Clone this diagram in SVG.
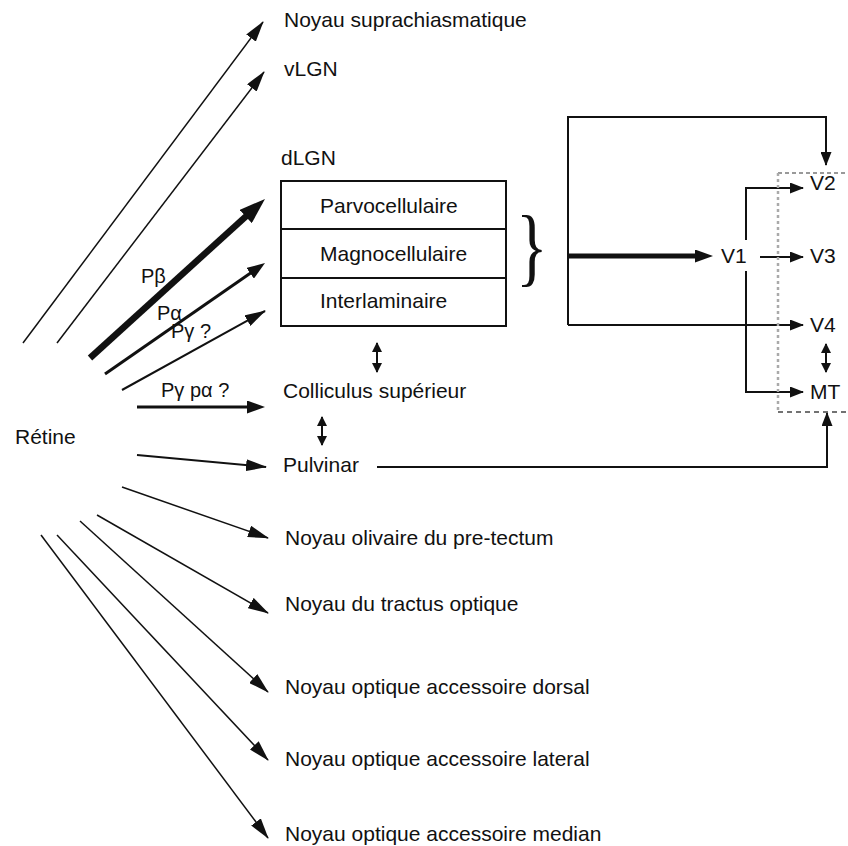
<svg xmlns="http://www.w3.org/2000/svg" width="848" height="846" viewBox="0 0 848 846">
<style>
  text { font-family: "Liberation Sans", Arial, sans-serif; font-size: 21px; fill: #111; }
  .lbl { font-size: 20px; }
  .ln { fill: none; stroke: #111; stroke-width: 1.5; }
  .ln2 { fill: none; stroke: #111; stroke-width: 2; }
  .box { fill: #fff; stroke: #111; stroke-width: 2; }
</style>
<defs>
  <marker id="aThin" markerUnits="userSpaceOnUse" markerWidth="21" markerHeight="12" refX="20" refY="6" orient="auto"><path d="M0,0 L21,6 L0,12 z" fill="#111"/></marker>
  <marker id="aSmall" markerUnits="userSpaceOnUse" markerWidth="14" markerHeight="11" refX="13" refY="5.5" orient="auto"><path d="M0,0 L14,5.5 L0,11 z" fill="#111"/></marker>
  <marker id="aMed" markerUnits="userSpaceOnUse" markerWidth="18" markerHeight="13" refX="4" refY="6.5" orient="auto"><path d="M0,0 L18,6.5 L0,13 z" fill="#111"/></marker>
  <marker id="aBig" markerUnits="userSpaceOnUse" markerWidth="26" markerHeight="18" refX="4" refY="9" orient="auto"><path d="M0,0 L26,9 L0,18 z" fill="#111"/></marker>
  <marker id="aDbl" markerUnits="userSpaceOnUse" markerWidth="10" markerHeight="10" refX="9" refY="5" orient="auto-start-reverse"><path d="M0,0 L10,5 L0,10 z" fill="#111"/></marker>
</defs>

<g id="connectors">
  <!-- Retina projections -->
  <line class="ln" x1="23" y1="343" x2="263" y2="22" marker-end="url(#aThin)"/>
  <line class="ln" x1="57" y1="343" x2="264" y2="72" marker-end="url(#aThin)"/>
  <line x1="90" y1="358" x2="248.7" y2="213.8" stroke="#111" stroke-width="6.5" marker-end="url(#aBig)"/>
  <line x1="105" y1="374" x2="253.5" y2="271" stroke="#111" stroke-width="3" marker-end="url(#aMed)"/>
  <line x1="122" y1="390" x2="265" y2="311" stroke="#111" stroke-width="2" marker-end="url(#aThin)"/>
  <line x1="137" y1="407" x2="251" y2="407" stroke="#111" stroke-width="3" marker-end="url(#aMed)"/>
  <line class="ln2" x1="137" y1="455" x2="266" y2="467" marker-end="url(#aThin)"/>
  <line class="ln" x1="122" y1="487" x2="268" y2="538" marker-end="url(#aThin)"/>
  <line class="ln" x1="97" y1="515" x2="268" y2="613" marker-end="url(#aThin)"/>
  <line class="ln" x1="80" y1="521" x2="268" y2="692" marker-end="url(#aThin)"/>
  <line class="ln" x1="57" y1="535" x2="268" y2="760" marker-end="url(#aThin)"/>
  <line class="ln" x1="41" y1="535" x2="268" y2="838" marker-end="url(#aThin)"/>

  <!-- double arrows -->
  <line class="ln2" x1="377" y1="343" x2="377" y2="372" marker-start="url(#aDbl)" marker-end="url(#aDbl)"/>
  <line class="ln2" x1="322" y1="417" x2="322" y2="445" marker-start="url(#aDbl)" marker-end="url(#aDbl)"/>
  <line class="ln2" x1="826" y1="344" x2="826" y2="372" marker-start="url(#aDbl)" marker-end="url(#aDbl)"/>

  <!-- dLGN to cortex -->
  <path class="ln2" d="M568,325 V117 H826 V165" marker-end="url(#aSmall)"/>
  <path class="ln2" d="M568,325 H803" marker-end="url(#aSmall)"/>
  <line x1="568" y1="256" x2="699" y2="256" stroke="#111" stroke-width="5" marker-end="url(#aMed)"/>

  <!-- V1 outputs -->
  <path class="ln2" d="M746,240 V188 H803" marker-end="url(#aSmall)"/>
  <path class="ln2" d="M746,271 V392 H803" marker-end="url(#aSmall)"/>
  <line class="ln2" x1="760" y1="257" x2="803" y2="257" marker-end="url(#aSmall)"/>

  <!-- Pulvinar to MT region -->
  <path class="ln2" d="M377,467 H827 V413" marker-end="url(#aSmall)"/>

  <!-- dashed extrastriate box -->
  <line x1="778" y1="173" x2="848" y2="173" stroke="#999" stroke-width="2" stroke-dasharray="4 3"/>
  <line x1="778" y1="173" x2="778" y2="412" stroke="#aaa" stroke-width="2.5" stroke-dasharray="3 3"/>
  <line x1="778" y1="412" x2="848" y2="412" stroke="#444" stroke-width="1.3" stroke-dasharray="5 4"/>
</g>

<g id="retine"><text x="15" y="444">Rétine</text></g>
<g id="suprachiasmatique"><text x="284" y="27">Noyau suprachiasmatique</text></g>
<g id="vLGN"><text x="284" y="76">vLGN</text></g>
<g id="dLGN">
  <text x="281" y="165">dLGN</text>
  <rect class="box" x="281" y="181" width="225" height="145"/>
  <line class="ln2" x1="281" y1="229" x2="506" y2="229"/>
  <line class="ln2" x1="281" y1="278" x2="506" y2="278"/>
  <text x="320" y="213">Parvocellulaire</text>
  <text x="320" y="261">Magnocellulaire</text>
  <text x="320" y="308">Interlaminaire</text>
  <text x="0" y="0" transform="translate(516,274.5) scale(1.1,1.45)" style="font-family:'Liberation Serif','Times New Roman',serif;font-size:60px">}</text>
</g>
<g id="colliculus"><text x="283" y="398">Colliculus supérieur</text></g>
<g id="pulvinar"><text x="283" y="472">Pulvinar</text></g>
<g id="olivaire"><text x="285" y="545">Noyau olivaire du pre-tectum</text></g>
<g id="tractus"><text x="285" y="611">Noyau du tractus optique</text></g>
<g id="dorsal"><text x="285" y="694">Noyau optique accessoire dorsal</text></g>
<g id="lateral"><text x="285" y="766">Noyau optique accessoire lateral</text></g>
<g id="median"><text x="285" y="841">Noyau optique accessoire median</text></g>

<g id="labels">
  <text class="lbl" x="141" y="283">Pβ</text>
  <text class="lbl" x="157" y="320">Pα</text>
  <text class="lbl" x="171" y="338">Pγ ?</text>
  <text class="lbl" x="161" y="397">Pγ pα ?</text>
</g>

<g id="V1"><text x="721" y="263">V1</text></g>
<g id="V2"><text x="810" y="190">V2</text></g>
<g id="V3"><text x="810" y="263">V3</text></g>
<g id="V4"><text x="810" y="332">V4</text></g>
<g id="MT"><text x="810" y="399">MT</text></g>
</svg>
